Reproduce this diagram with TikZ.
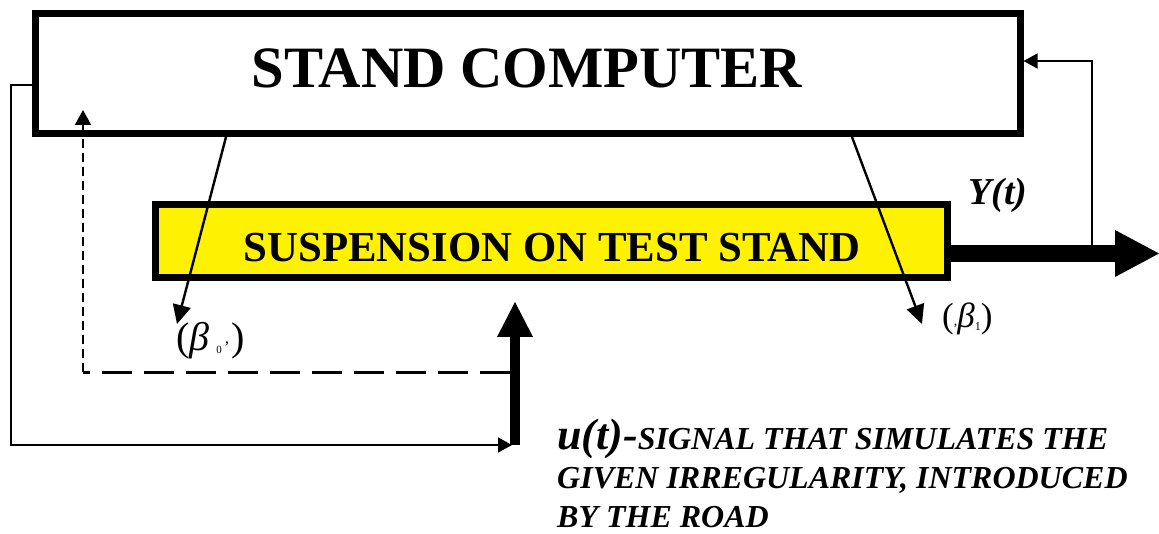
\documentclass[tikz,border=0pt]{standalone}
\usepackage{fontspec}
\setmainfont{Liberation Serif}
\usetikzlibrary{arrows.meta}
\begin{document}
\begin{tikzpicture}[x=1pt,y=-1pt,
  thickbox/.style={draw=black,line width=7pt,inner sep=0pt},
  thin/.style={line width=1.4pt},
  smallhead/.style={-{Triangle[length=14pt,width=15pt]}},
  diag/.style={line width=2.4pt,-{Triangle[length=19pt,width=18pt]}},
  dashh/.style={line width=3pt,dash pattern=on 30pt off 12pt},
  dashv/.style={line width=2pt,dash pattern=on 9pt off 5pt},
  lbl/.style={inner sep=0pt,anchor=base west}]
\useasboundingbox (0,0) rectangle (1159,534);
% boxes
\node[thickbox,fill=white,minimum width=985pt,minimum height=120pt] (sc) at (527.5,73.5) {};
\node[inner sep=0pt,anchor=base] (sctext) at (527,88) {\fontsize{58.6}{60}\selectfont\bfseries STAND COMPUTER};
\node[thickbox,fill=yellow,minimum width=792pt,minimum height=73pt] (susp) at (551.5,241.5) {};
\node[inner sep=0pt,anchor=base] (susptext) at (552,262) {\fontsize{42.8}{44}\selectfont\bfseries SUSPENSION ON TEST STAND};
% labels
\node[lbl] (ylab) at (968,205) {\fontsize{38}{40}\selectfont\bfseries\itshape Y(t)};
\node[lbl] (b0) at (176,351) {\fontsize{40}{40}\selectfont (\textit{β}\hspace{7pt}\raisebox{-3pt}{\fontsize{11}{11}\selectfont 0}\hspace{3pt}\raisebox{7pt}{\fontsize{17}{17}\selectfont ,}\hspace{2pt})};
\node[lbl] (b1) at (942,328) {\fontsize{35}{35}\selectfont (\raisebox{2pt}{\fontsize{14}{14}\selectfont ,}\textit{β}\raisebox{-3pt}{\fontsize{12}{12}\selectfont 1})};
\node[lbl,align=left,font=\fontsize{32}{39}\selectfont\bfseries\itshape] (ulab) at (557,527) {{\fontsize{44}{39}\selectfont u(t)-}SIGNAL THAT SIMULATES THE\\
GIVEN IRREGULARITY, INTRODUCED\\
BY THE ROAD};
% coordinates
\coordinate (yst) at (951,253.5);
\coordinate (yend) at (1159,253.5);
\coordinate (fb) at (1092,253.5);
\coordinate (fbtop) at (1092,61);
\coordinate (scin) at (1023.5,61);
\coordinate (ubot) at (515,445);
\coordinate (utop) at (515,302);
\coordinate (lst) at (31.5,85);
\coordinate (lc1) at (11,85);
\coordinate (lc2) at (11,445);
\coordinate (lend) at (512,445);
\coordinate (dst) at (510,372.5);
\coordinate (dc) at (83,372.5);
\coordinate (dend) at (83,110);
\coordinate (d0s) at (226,137);
\coordinate (d0e) at (177,324);
\coordinate (d1s) at (852,137);
\coordinate (d1e) at (922,324);
% big arrows
\draw[line width=17pt,-{Triangle[length=44pt,width=47pt,line width=0pt]}] (yst) -- (yend);
\draw[line width=10pt,-{Triangle[length=35pt,width=36pt,line width=0pt]}] (ubot) -- (utop);
% feedback
\draw[thin,smallhead] (fb) -- (fbtop) -- (scin);
\draw[thin,smallhead] (lst) -- (lc1) -- (lc2) -- (lend);
% dashed
\draw[dashh] (dst) -- (dc);
\draw[dashv,-{Triangle[length=15pt,width=16pt]}] (dc) -- (dend);
% diagonal
\draw[diag] (d0s) -- (d0e);
\draw[diag] (d1s) -- (d1e);
\end{tikzpicture}
\end{document}
